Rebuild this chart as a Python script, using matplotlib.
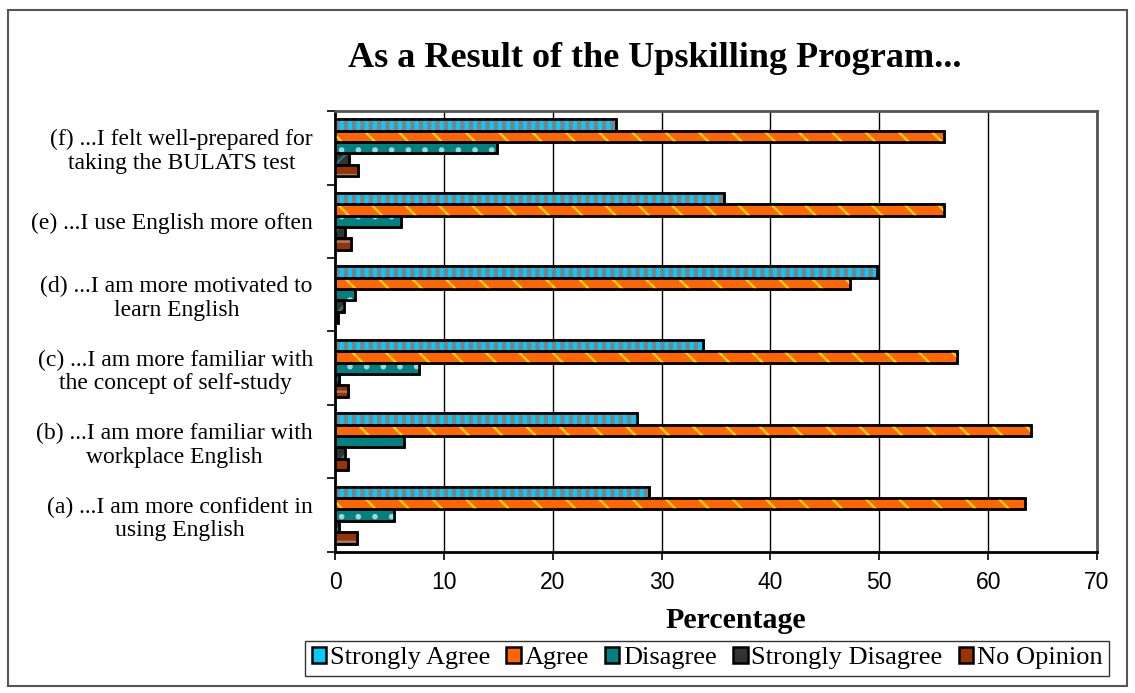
import matplotlib
matplotlib.use("Agg")
import matplotlib.pyplot as plt
import numpy as np
from matplotlib.patches import Rectangle

# data (percent), categories bottom -> top
categories = [
    "(a) ...I am more confident in\nusing English",
    "(b) ...I am more familiar with\nworkplace English",
    "(c) ...I am more familiar with\nthe concept of self-study",
    "(d) ...I am more motivated to\nlearn English",
    "(e) ...I use English more often",
    "(f) ...I felt well-prepared for\ntaking the BULATS test",
]
series_names = ["Strongly Agree", "Agree", "Disagree", "Strongly Disagree", "No Opinion"]
strongly_agree = [28.8, 27.7, 33.8, 49.8, 35.7, 25.8]
agree = [63.4, 63.9, 57.1, 47.3, 55.9, 55.9]
disagree = [5.4, 6.3, 7.7, 1.8, 6.1, 14.9]
strongly_disagree = [0.4, 0.9, 0.4, 0.8, 0.9, 1.3]
no_opinion = [2.0, 1.2, 1.2, 0.3, 1.5, 2.1]
x_ticks = [0, 10, 20, 30, 40, 50, 60, 70]

series = [strongly_agree, agree, disagree, strongly_disagree, no_opinion]
face_colors = ["#00CCFF", "#FF6600", "#008080", "#333333", "#993300"]
hatch_colors = ["#808080", "#FFD700", "#A0D8D8", "#1E8080", "#A08070"]
hatches = ["||", "\\", ".", "//", "-"]
hatch_widths = [3.0, 1.6, 1.6, 1.6, 1.6]

serif = "Liberation Serif"
sans = "Liberation Sans"

fig = plt.figure(figsize=(11.35, 6.93), dpi=100)
ax = fig.add_axes([0.2952, 0.2035, 0.6713, 0.6363])

y = np.arange(len(categories))
h = 0.156
for i, vals in enumerate(series):
    pos = y + (2 - i) * h
    ax.barh(pos, vals, height=h, color=face_colors[i], edgecolor="black",
            linewidth=1.8, zorder=3, label=series_names[i])
    with plt.rc_context({"hatch.linewidth": hatch_widths[i]}):
        ax.barh(pos, vals, height=h, fill=False, edgecolor=hatch_colors[i],
                hatch=hatches[i], linewidth=0, zorder=3.5)
    ax.barh(pos, vals, height=h, fill=False, edgecolor="black",
            linewidth=1.8, zorder=4)

ax.set_xlim(0, 70)
ax.set_ylim(-0.5, len(categories) - 0.5)
ax.set_xticks(x_ticks)
ax.set_xticklabels([str(t) for t in x_ticks], fontsize=16.5, family=sans)
ax.set_yticks(y)
ax.set_yticklabels(categories, fontsize=17, family=serif,
                   multialignment="center", linespacing=1.15)
ax.set_yticks(np.arange(-0.5, len(categories), 1.0), minor=True)
ax.tick_params(axis="y", which="major", length=0, pad=16)
ax.tick_params(axis="y", which="minor", length=6, width=1.2, direction="out")
ax.tick_params(axis="x", length=6, width=1.2, direction="out", pad=8)
ax.grid(True, axis="x", color="black", linewidth=1.0, zorder=0)

for s in ["left", "bottom"]:
    ax.spines[s].set_linewidth(2)
    ax.spines[s].set_color("black")
for s in ["top", "right"]:
    ax.spines[s].set_linewidth(2)
    ax.spines[s].set_color("#555555")

fig.text(0.577, 0.915, "As a Result of the Upskilling Program...", ha="center",
         va="center", fontsize=26, fontweight="bold", family=serif)
fig.text(0.648, 0.105, "Percentage", ha="center", va="center",
         fontsize=21.5, fontweight="bold", family=serif)

handles, labels = ax.get_legend_handles_labels()
leg = fig.legend(handles, labels, loc="center", bbox_to_anchor=(0.623, 0.05),
                 ncol=5, frameon=True, fancybox=False, edgecolor="black",
                 prop={"family": serif, "size": 19}, handlelength=0.55,
                 handleheight=0.55, handletextpad=0.15, columnspacing=0.6,
                 borderpad=0.25, borderaxespad=0)
leg.get_frame().set_linewidth(1.0)

fig.patches.append(Rectangle((0.007, 0.01), 0.986, 0.975, transform=fig.transFigure,
                             fill=False, edgecolor="#555555", linewidth=1.5))

fig.savefig("out.png", dpi=100)
